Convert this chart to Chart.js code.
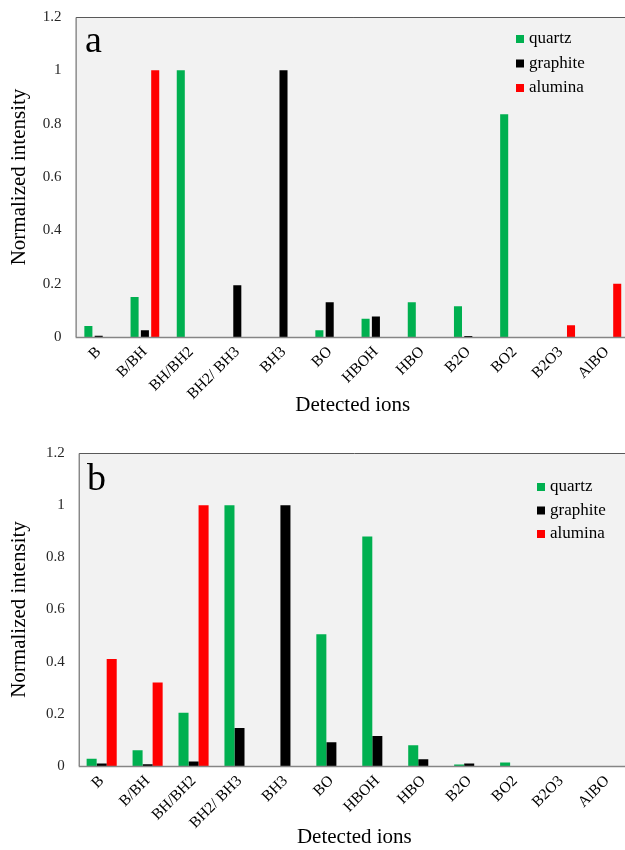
<!DOCTYPE html>
<html>
<head>
<meta charset="utf-8">
<script src="https://cdn.jsdelivr.net/npm/chart.js@4.4.1/dist/chart.umd.min.js"></script>
<style>
html, body { margin: 0; padding: 0; overflow: hidden; background: #fff; }
body { width: 625px; height: 850px; }
.caixa { position: relative; width: 640px; }
</style>
</head>
<body>
<div class="caixa" style="height:426px; margin-top:-6px"><canvas id="graficoA"></canvas></div>
<div class="caixa" style="height:430px"><canvas id="graficoB"></canvas></div>
<script>
// dados
const ions = ["B", "B/BH", "BH/BH2", "BH2/ BH3", "BH3", "BO", "HBOH", "HBO", "B2O", "BO2", "B2O3", "AlBO"];
const series = ["quartz", "graphite", "alumina"];

const quartzA   = [0.041, 0.15, 1, 0, 0, 0.025, 0.068, 0.13, 0.115, 0.835, 0, 0];
const graphiteA = [0.005, 0.025, 0, 0.194, 1, 0.13, 0.077, 0, 0.004, 0, 0, 0];
const aluminaA  = [0, 1, 0, 0, 0, 0, 0, 0, 0, 0, 0.044, 0.2];

const quartzB   = [0.028, 0.06, 0.204, 1, 0, 0.505, 0.88, 0.08, 0.006, 0.013, 0, 0];
const graphiteB = [0.01, 0.007, 0.017, 0.146, 1, 0.091, 0.115, 0.026, 0.01, 0, 0, 0];
const aluminaB  = [0.41, 0.32, 1, 0, 0, 0, 0, 0, 0, 0, 0, 0];

const ticksY = ["0", "0.2", "0.4", "0.6", "0.8", "1", "1.2"];

const cores = ["#00b050", "#000000", "#ff0000"];
const fonte = "'Liberation Serif', 'Times New Roman', serif";

// fundo cinza, moldura, legenda e letra do painel
const painel = {
    id: "painel",
    beforeDatasetsDraw(chart){
        const ctx = chart.ctx;
        const a = chart.chartArea;
        ctx.save();
        ctx.fillStyle = "#f2f2f2";
        ctx.fillRect(a.left, a.top, a.right - a.left, a.bottom - a.top);
        ctx.restore();
    },
    afterDatasetsDraw(chart, args, opts){
        const ctx = chart.ctx;
        const a = chart.chartArea;
        ctx.save();
        ctx.strokeStyle = "#595959";
        ctx.lineWidth = 1;
        ctx.beginPath();
        ctx.moveTo(a.left + 0.5, a.bottom);
        ctx.lineTo(a.left + 0.5, a.top + 0.5);
        ctx.lineTo(a.right, a.top + 0.5);
        ctx.stroke();
        ctx.strokeStyle = "#868686";
        ctx.lineWidth = 1.5;
        ctx.beginPath();
        ctx.moveTo(a.left, a.bottom + 0.5);
        ctx.lineTo(a.right, a.bottom + 0.5);
        ctx.stroke();

        ctx.fillStyle = "#000";
        ctx.font = "38px " + fonte;
        ctx.textBaseline = "alphabetic";
        ctx.fillText(opts.letra, opts.letraX, opts.letraY);

        ctx.font = "17px " + fonte;
        ctx.textBaseline = "middle";
        chart.data.datasets.forEach((ds, i) => {
            let y = opts.legY + i * opts.passo;
            ctx.fillStyle = ds.backgroundColor;
            ctx.fillRect(opts.legX, y - 4, 8, 8);
            ctx.fillStyle = "#000";
            ctx.fillText(ds.label, opts.legX + 13, y);
        });
        ctx.restore();
    }
};

function criarGrafico(id, quartz, graphite, alumina, cfg){

    const ctx = document.getElementById(id);

    const valores = [quartz, graphite, alumina];

    return new Chart(ctx, {
        type: "bar",
        data: {
            labels: ions,
            datasets: series.map((nome, i) => ({
                label: nome,
                data: valores[i],
                backgroundColor: cores[i],
                borderWidth: 0
            }))
        },
        options: {
            responsive: true,
            maintainAspectRatio: false,
            animation: false,
            layout: { padding: { top: cfg.topo, right: 10, left: 0, bottom: 0 } },
            datasets: { bar: { categoryPercentage: cfg.catPct, barPercentage: cfg.barPct } },
            scales: {
                x: {
                    grid: { display: false, drawTicks: false },
                    border: { display: false },
                    ticks: {
                        autoSkip: false, minRotation: 45, maxRotation: 45, padding: 6,
                        color: "#000", font: { family: fonte, size: 15.5 }
                    },
                    title: {
                        display: true, text: "Detected ions", color: "#000",
                        font: { family: fonte, size: 21 },
                        padding: { top: 0, bottom: cfg.tituloX }
                    },
                    afterFit: s => { s.height = cfg.alturaX; }
                },
                y: {
                    min: 0,
                    max: 1.2,
                    grid: { display: false, drawTicks: false },
                    border: { display: false },
                    ticks: {
                        stepSize: 0.2, padding: 14, color: "#262626",
                        font: { family: fonte, size: 15 },
                        callback: (v, i) => ticksY[i]
                    },
                    title: {
                        display: true, text: "Normalized intensity", color: "#000",
                        font: { family: fonte, size: 21 },
                        padding: { top: 7, bottom: 0 }
                    },
                    afterFit: s => { s.width = cfg.larguraY; }
                }
            },
            plugins: {
                legend: { display: false },
                tooltip: { enabled: false },
                painel: cfg.painel
            }
        },
        plugins: [painel]
    });
}

criarGrafico("graficoA", quartzA, graphiteA, aluminaA, {
    topo: 23, alturaX: 83, tituloX: 2, larguraY: 75.6,
    catPct: 0.67, barPct: 0.78,
    painel: { letra: "a", letraX: 85, letraY: 58, legX: 516, legY: 45, passo: 24.5 }
});

criarGrafico("graficoB", quartzB, graphiteB, aluminaB, {
    topo: 33, alturaX: 84, tituloX: 0, larguraY: 78.7,
    catPct: 0.655, barPct: 1.0,
    painel: { letra: "b", letraX: 87, letraY: 70, legX: 537, legY: 67, passo: 23.5 }
});
</script>
</body>
</html>
